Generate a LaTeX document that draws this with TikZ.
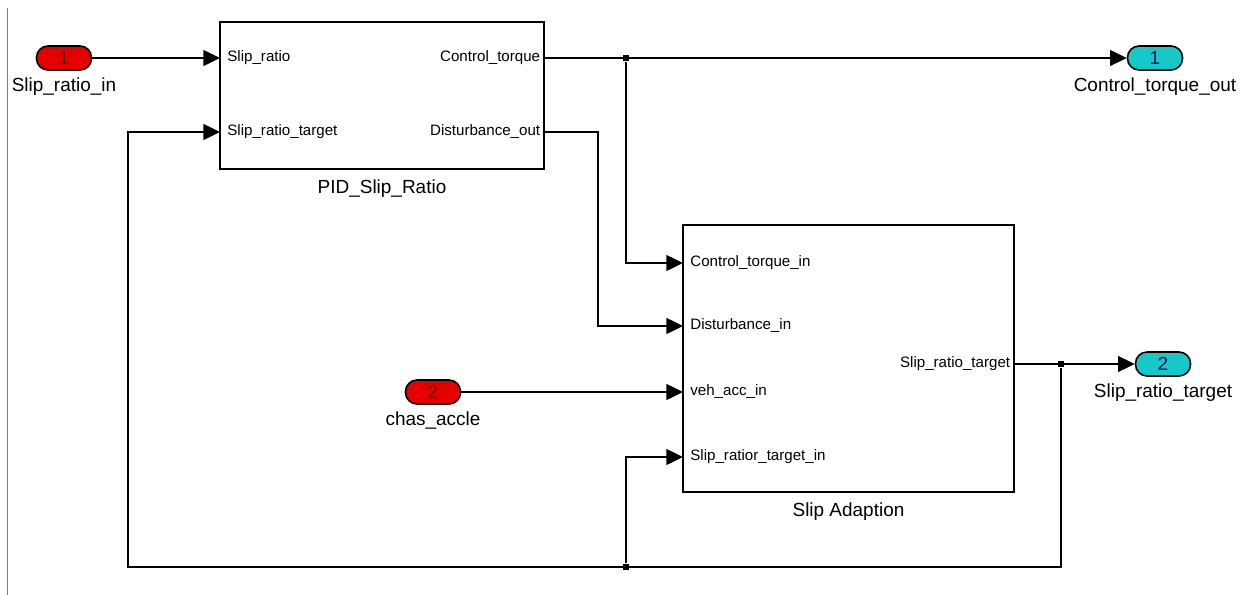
\documentclass[tikz,border=0pt]{standalone}
\usepackage{fontspec}
\setmainfont{Liberation Sans}
\usepackage{xcolor}
\usetikzlibrary{arrows.meta,positioning,calc}
\definecolor{inred}{RGB}{228,0,0}
\definecolor{outcyan}{RGB}{22,200,200}
\tikzset{
  x=0.02cm, y=-0.02cm,
  blk/.style    ={draw,line width=1.3pt,inner sep=0pt},
  inport/.style ={draw,line width=0.9pt,fill=inred,rounded corners=2.3mm,minimum width=1.1cm,minimum height=0.48cm,inner sep=0pt,text=red!40!black,font=\fontsize{10.8}{12}\selectfont},
  outport/.style={inport,fill=outcyan,text=blue!35!black},
  lbl/.style    ={inner sep=1pt,font=\fontsize{10.8}{12}\selectfont},
  portin/.style ={anchor=west,inner sep=0pt,xshift=4pt,font=\fontsize{8.6}{10}\selectfont},
  portout/.style={anchor=east,inner sep=0pt,xshift=-2pt,font=\fontsize{8.6}{10}\selectfont},
  wire/.style   ={line width=1.2pt,-{Triangle[length=9.5pt,width=9pt]}},
  dot/.style    ={rectangle,fill,minimum size=3.8pt,inner sep=0pt},
}
\begin{document}
\begin{tikzpicture}
  \useasboundingbox (0,0) rectangle (1248,595);
  \draw[gray,line width=1pt] (7.5,8) -- (7.5,595);

  % blocks
  \node[blk,minimum width=6.48cm,minimum height=2.94cm] (pid) at (382,95.5) {};
  \node[lbl,below=4pt of pid] (pid-name) {PID\_Slip\_Ratio};
  \node[blk,minimum width=6.62cm,minimum height=5.34cm] (sa) at (848.5,358.5) {};
  \node[lbl,below=4pt of sa] (sa-name) {Slip Adaption};

  % ports of the blocks
  \coordinate (pid-i1) at (220,58);  \coordinate (pid-i2) at (220,132);
  \coordinate (pid-o1) at (544,58);  \coordinate (pid-o2) at (544,132);
  \coordinate (sa-i1) at (683,263);  \coordinate (sa-i2) at (683,326);
  \coordinate (sa-i3) at (683,392);  \coordinate (sa-i4) at (683,457);
  \coordinate (sa-o1) at (1014,364);
  \node[portin]  at (pid-i1) {Slip\_ratio};
  \node[portin]  at (pid-i2) {Slip\_ratio\_target};
  \node[portout] at (pid-o1) {Control\_torque};
  \node[portout] at (pid-o2) {Disturbance\_out};
  \node[portin]  at (sa-i1) {Control\_torque\_in};
  \node[portin]  at (sa-i2) {Disturbance\_in};
  \node[portin]  at (sa-i3) {veh\_acc\_in};
  \node[portin]  at (sa-i4) {Slip\_ratior\_target\_in};
  \node[portout] at (sa-o1) {Slip\_ratio\_target};

  % in- and outports
  \node[inport]  (in1)  at (64,58)    {1};
  \node[lbl,below=2.5pt of in1]  {Slip\_ratio\_in};
  \node[inport]  (in2)  at (433,392)  {2};
  \node[lbl,below=2.5pt of in2]  {chas\_accle};
  \node[outport] (out1) at (1155,58)  {1};
  \node[lbl,below=2.5pt of out1] {Control\_torque\_out};
  \node[outport] (out2) at (1163,364) {2};
  \node[lbl,below=2.5pt of out2] {Slip\_ratio\_target};

  % branch points
  \node[dot] (j1) at (626,58)   {};
  \node[dot] (j2) at (1061,364) {};
  \node[dot] (j3) at (626,567)  {};
  \coordinate (lp-r) at (1061,567);
  \coordinate (lp-l) at (128,567);

  % signals
  \draw[wire] (in1.east) -- (pid-i1);
  \draw[wire] (pid-o1) -- (out1.west);
  \draw[wire] (j1) |- (sa-i1);
  \draw[wire] (pid-o2) -- ++(54,0) |- (sa-i2);
  \draw[wire] (in2.east) -- (sa-i3);
  \draw[wire] (sa-o1) -- (out2.west);
  \draw[wire] (j2) -- (lp-r) -- (lp-l) |- (pid-i2);
  \draw[wire] (j3) |- (sa-i4);
\end{tikzpicture}
\end{document}
